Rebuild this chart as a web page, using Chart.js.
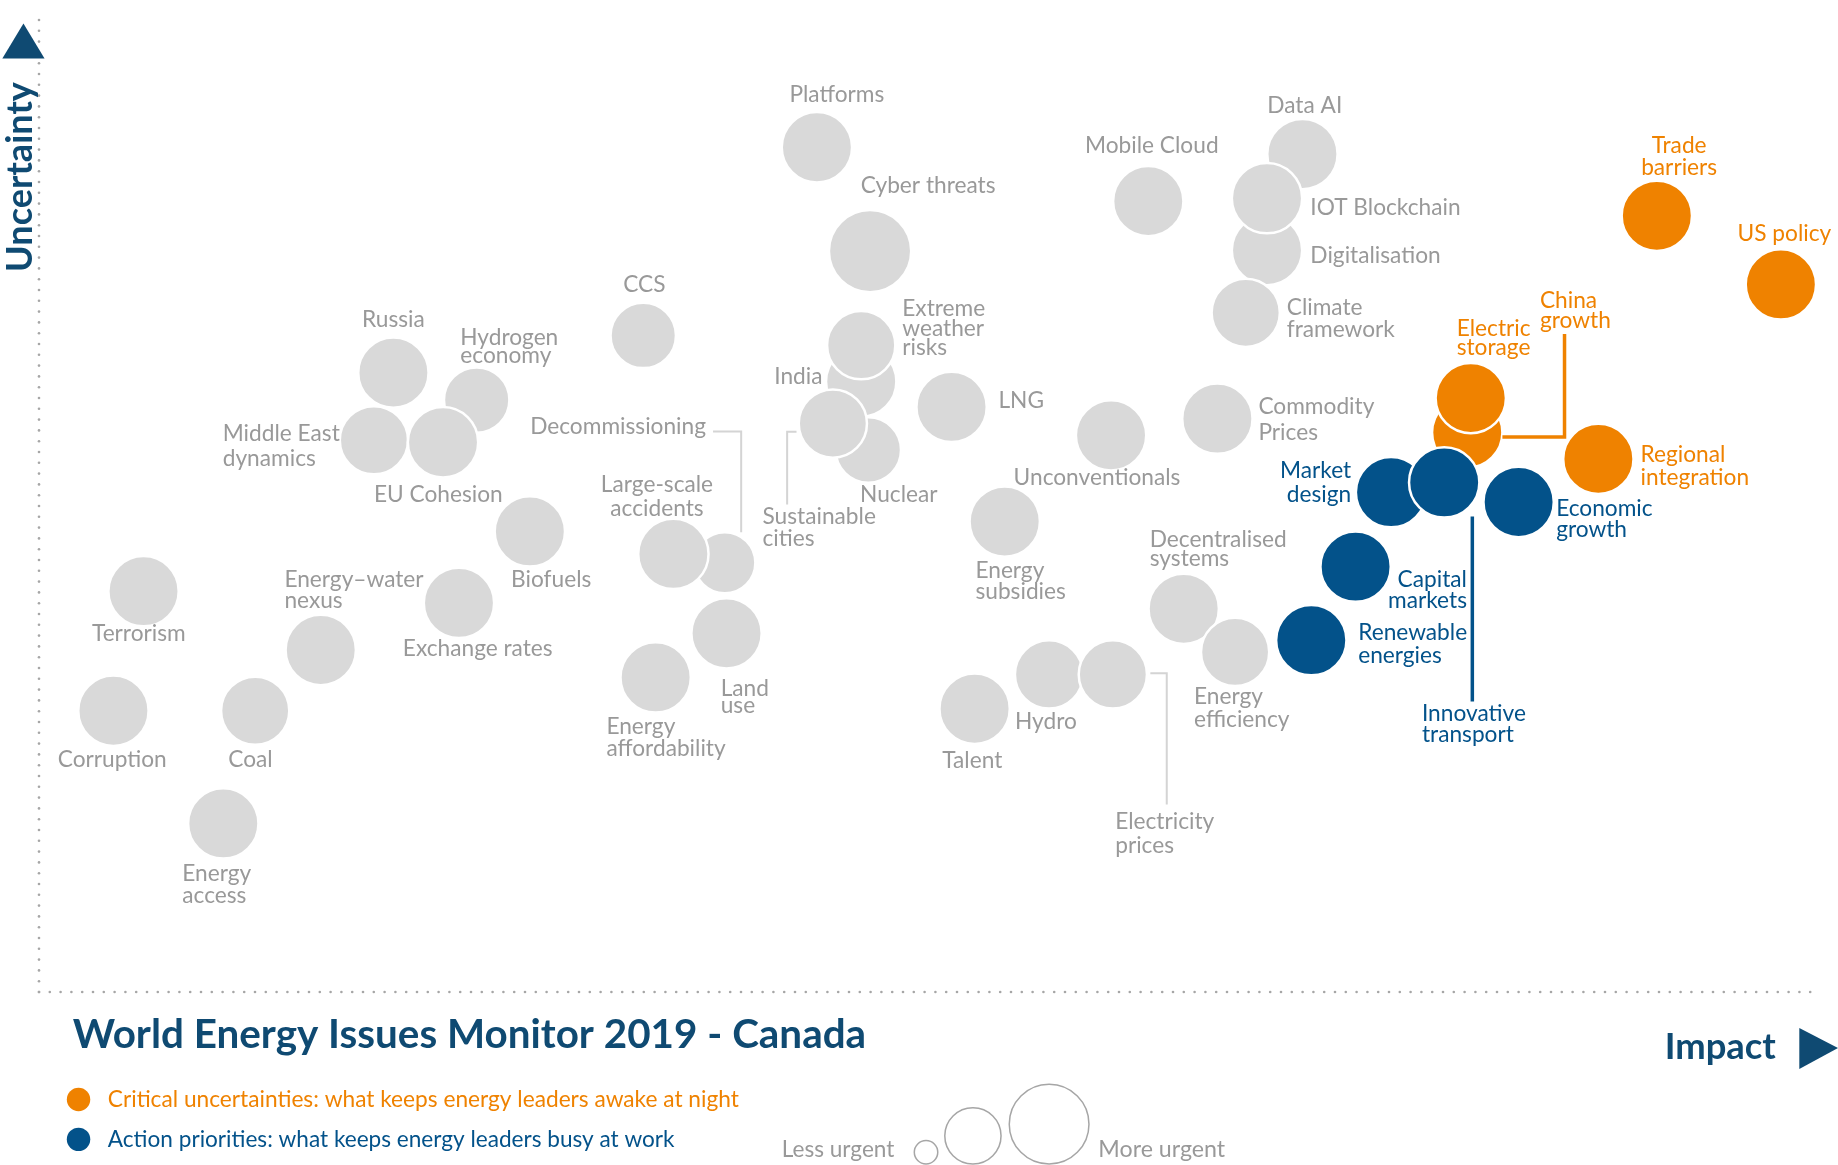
<!DOCTYPE html>
<html>
<head>
<meta charset="utf-8">
<title>World Energy Issues Monitor 2019 - Canada</title>
<script src="https://cdn.jsdelivr.net/npm/chart.js@4.4.1/dist/chart.umd.min.js"></script>
<style>
    html, body { margin: 0; padding: 0; background: #fff; }
    #wrap { position: relative; width: 1838px; height: 1165px; }
</style>
</head>
<body>
<div id="wrap"><canvas id="issuesChart"></canvas></div>
<script>
// Impact (x) and uncertainty (y) on a 0-100 scale, urgency drives bubble size
const greyIssues = ['Data AI', 'Digitalisation', 'IOT Blockchain', 'Mobile Cloud', 'Platforms', 'Cyber threats',
    'Climate\nframework', 'CCS', 'Russia', 'Hydrogen\neconomy', 'Middle East\ndynamics', 'EU Cohesion',
    'India', 'Nuclear', 'Extreme\nweather\nrisks', 'Sustainable\ncities', 'LNG', 'Unconventionals',
    'Commodity\nPrices', 'Biofuels', 'Decommissioning', 'Large-scale\naccidents', 'Land\nuse',
    'Energy\naffordability', 'Terrorism', 'Energy\u2013water\nnexus', 'Exchange rates', 'Corruption', 'Coal',
    'Energy\naccess', 'Energy\nsubsidies', 'Decentralised\nsystems', 'Energy\nefficiency', 'Hydro',
    'Electricity\nprices', 'Talent'];
const greyImpact = [71.3, 69.3, 69.3, 62.6, 43.9, 46.9, 68.1, 34.1, 20.0, 24.7, 18.9, 22.8,
    46.4, 46.8, 46.4, 44.8, 51.5, 60.5, 66.5, 27.7, 38.7, 35.8, 38.8, 34.8, 5.9, 15.9, 23.7, 4.2, 12.2,
    10.4, 54.5, 64.6, 67.5, 57.0, 60.6, 52.8];
const greyUncertainty = [85.5, 75.7, 81.0, 80.7, 86.2, 75.6, 69.3, 67.0, 63.2, 60.4, 56.3, 56.1,
    62.3, 55.3, 66.0, 58.0, 59.7, 56.8, 58.5, 47.0, 43.8, 44.7, 36.6, 32.1, 40.9, 34.9, 39.7, 28.7, 28.7,
    17.2, 48.0, 39.1, 34.7, 32.4, 32.4, 28.9];
const greyUrgency = [10, 10, 10, 10, 10, 11.7, 9.7, 9.3, 10, 9.3, 9.7, 10,
    10, 9.3, 9.7, 9.7, 10, 10, 10, 10, 8.7, 10, 10, 10, 10, 10, 10, 10, 9.7,
    10, 10, 10, 9.7, 9.7, 9.7, 10];

const criticalIssues = ['Trade\nbarriers', 'US policy', 'China\ngrowth', 'Electric\nstorage', 'Regional\nintegration'];
const criticalImpact = [91.3, 98.3, 80.6, 80.8, 88.0];
const criticalUncertainty = [79.2, 72.2, 57.1, 60.6, 54.4];
const criticalUrgency = [10, 10, 10, 10, 10];

const actionIssues = ['Renewable\nenergies', 'Capital\nmarkets', 'Economic\ngrowth', 'Market\ndesign', 'Innovative\ntransport'];
const actionImpact = [71.8, 74.3, 83.5, 76.3, 79.3];
const actionUncertainty = [35.9, 43.4, 50.0, 51.0, 52.0];
const actionUrgency = [10, 10, 10, 10, 10];

// the reference was laid out 1568 wide; label offsets below are in that unit
const S = 1838 / 1568;
const P = v => v * S;
const FONT = 'Lato';

const GREY = '#d9d9d9';
const GREY_TEXT = '#999999';
const ORANGE = '#ef8200';
const BLUE = '#03528a';
const NAVY = '#0f4a72';
const BORDER_W = 2.5;

// the 0-100 frame, in canvas pixels
const FRAME = { left: 39, right: 1811, top: 12, bottom: 992 };
const X_UNIT = (FRAME.right - FRAME.left) / 100;
const Y_UNIT = (FRAME.bottom - FRAME.top) / 100;

// label placement: [dx, dy, align, line gap, connector path]
const labelLayout = {
    'Platforms': [17, -45, 'center'],
    'Cyber threats': [-8, -56, 'left'],
    'Mobile Cloud': [3, -47, 'center'],
    'Data AI': [2, -41, 'center'],
    'IOT Blockchain': [37, 8, 'left'],
    'Digitalisation': [37, 5, 'left'],
    'Climate\nframework': [35, -4, 'left', 18],
    'CCS': [1, -43, 'center'],
    'Russia': [0, -45, 'center'],
    'Hydrogen\neconomy': [-14, -53, 'left', 15],
    'Middle East\ndynamics': [-129, -6, 'left', 22],
    'EU Cohesion': [-4, 45, 'center'],
    'Extreme\nweather\nrisks': [35, -31, 'left', 16.5],
    'India': [-33, -4, 'right'],
    'Sustainable\ncities': [-60, 79, 'left', 19, [[-31, 7], [-39, 7], [-39, 69]]],
    'Nuclear': [-7, 38, 'left'],
    'LNG': [40, -5, 'left'],
    'Unconventionals': [-12, 36, 'center'],
    'Commodity\nPrices': [35, -10, 'left', 22],
    'Decommissioning': [-16, -116, 'right', 0, [[-10, -112], [14, -112], [14, -26]]],
    'Large-scale\naccidents': [-14, -59, 'center', 20],
    'Biofuels': [-16, 41, 'left'],
    'Land\nuse': [-5, 47, 'left', 15],
    'Energy\naffordability': [-42, 42, 'left', 19],
    'Terrorism': [-4, 36, 'center'],
    'Energy\u2013water\nnexus': [-31, -60, 'left', 18],
    'Exchange rates': [16, 39, 'center'],
    'Corruption': [-1, 42, 'center'],
    'Coal': [-4, 42, 'center'],
    'Energy\naccess': [-35, 43, 'left', 19],
    'Energy\nsubsidies': [-25, 42, 'left', 18],
    'Decentralised\nsystems': [-29, -59, 'left', 16],
    'Energy\nefficiency': [-35, 38, 'left', 20],
    'Hydro': [-29, 40, 'left'],
    'Electricity\nprices': [2, 126, 'left', 20, [[32, -1], [46, -1], [46, 111]]],
    'Talent': [-2, 44, 'center'],
    'Trade\nbarriers': [19, -60, 'center', 19],
    'US policy': [3, -43, 'center'],
    'Electric\nstorage': [-12, -59, 'left', 16],
    'China\ngrowth': [62, -112, 'left', 17, [[30, 4], [83, 4], [83, -84]]],
    'Regional\nintegration': [36, -4, 'left', 20],
    'Market\ndesign': [-34, -18, 'right', 20],
    'Innovative\ntransport': [-19, 197, 'left', 18, [[24, 29], [24, 187]]],
    'Economic\ngrowth': [32, 6, 'left', 18],
    'Capital\nmarkets': [95, 11, 'right', 18],
    'Renewable\nenergies': [40, -6, 'left', 19]
};

const R_UNIT = 3 * S;
function toPoints(impact, uncertainty, urgency) {
    return impact.map((x, i) => ({ x: x, y: uncertainty[i], r: urgency[i] * R_UNIT }));
}

// Chart.js pads the chart area by the largest bubble; stretch the scales so 0-100 still sits on FRAME
const overflow = Math.max(...greyUrgency, ...criticalUrgency, ...actionUrgency) * R_UNIT + BORDER_W;
const areaLeft = Math.max(FRAME.left, overflow);
const areaRight = 1838 - Math.max(1838 - FRAME.right, overflow);
const areaTop = Math.max(FRAME.top, overflow);
const xMin = (areaLeft - FRAME.left) / X_UNIT;
const xMax = (areaRight - FRAME.left) / X_UNIT;
const yMax = (FRAME.bottom - areaTop) / Y_UNIT;

function fitFont(ctx, text, weight, width) {
    ctx.font = weight + ' 100px ' + FONT;
    const size = 100 * width / ctx.measureText(text).width;
    return weight + ' ' + size.toFixed(1) + 'px ' + FONT;
}

const overlay = {
    id: 'overlay',
    beforeDatasetsDraw(chart) {
        const ctx = chart.ctx;
        ctx.save();
        ctx.fillStyle = '#a6a6a6';
        // dotted axes
        for (let y = FRAME.bottom; y >= P(8); y -= 10.8) {
            ctx.beginPath();
            ctx.arc(FRAME.left, y, 1.3, 0, Math.PI * 2);
            ctx.fill();
        }
        for (let x = FRAME.left; x <= P(1545); x += 10.8) {
            ctx.beginPath();
            ctx.arc(x, FRAME.bottom, 1.3, 0, Math.PI * 2);
            ctx.fill();
        }
        ctx.restore();
    },
    afterDatasetsDraw(chart) {
        const ctx = chart.ctx;
        ctx.save();

        // connectors and labels
        chart.data.datasets.forEach((ds, di) => {
            const meta = chart.getDatasetMeta(di);
            ds.issues.forEach((name, i) => {
                const el = meta.data[i];
                const lay = labelLayout[name];
                if (!el || !lay) return;
                const [dx, dy, align, gap, path] = lay;
                if (path) {
                    ctx.strokeStyle = ds.lineColor;
                    ctx.lineWidth = ds.lineWidth;
                    ctx.beginPath();
                    path.forEach((p, k) => {
                        const px = el.x + P(p[0]);
                        const py = el.y + P(p[1]);
                        if (k === 0) ctx.moveTo(px, py); else ctx.lineTo(px, py);
                    });
                    ctx.stroke();
                }
                ctx.fillStyle = ds.textColor;
                ctx.font = '400 22.7px ' + FONT;
                ctx.textAlign = align;
                ctx.textBaseline = 'middle';
                name.split('\n').forEach((line, k) => {
                    ctx.fillText(line, el.x + P(dx), el.y + P(dy + k * (gap || 20)));
                });
            });
        });

        // axis titles and arrows
        ctx.fillStyle = NAVY;
        ctx.beginPath();
        ctx.moveTo(P(2), P(50));
        ctx.lineTo(P(38), P(50));
        ctx.lineTo(P(20), P(20));
        ctx.closePath();
        ctx.fill();
        ctx.beginPath();
        ctx.moveTo(P(1535), P(877));
        ctx.lineTo(P(1568), P(894));
        ctx.lineTo(P(1535), P(912));
        ctx.closePath();
        ctx.fill();

        ctx.save();
        ctx.translate(P(17), P(151));
        ctx.rotate(-Math.PI / 2);
        ctx.font = fitFont(ctx, 'Uncertainty', '700', P(162));
        ctx.textAlign = 'center';
        ctx.textBaseline = 'middle';
        ctx.fillText('Uncertainty', 0, 0);
        ctx.restore();

        ctx.textBaseline = 'middle';
        ctx.textAlign = 'right';
        ctx.font = fitFont(ctx, 'Impact', '700', P(95));
        ctx.fillText('Impact', P(1515), P(893));

        // title
        ctx.textAlign = 'left';
        ctx.font = fitFont(ctx, 'World Energy Issues Monitor 2019 - Canada', '700', P(677));
        ctx.fillText('World Energy Issues Monitor 2019 - Canada', P(62), P(883));

        // colour legend
        const legendRows = [
            [ORANGE, 'Critical uncertainties: what keeps energy leaders awake at night', 938, 538],
            [BLUE, 'Action priorities: what keeps energy leaders busy at work', 972, 483]
        ];
        legendRows.forEach(([color, text, y, w]) => {
            ctx.fillStyle = color;
            ctx.beginPath();
            ctx.arc(P(67), P(y), P(10), 0, Math.PI * 2);
            ctx.fill();
            ctx.font = fitFont(ctx, text, '400', P(w));
            ctx.fillText(text, P(92), P(y));
        });

        // size legend
        ctx.strokeStyle = '#a6a6a6';
        ctx.lineWidth = 1.5;
        [[790, 983, 10], [830, 969, 24], [895, 959, 34]].forEach(([x, y, r]) => {
            ctx.beginPath();
            ctx.arc(P(x), P(y), P(r), 0, Math.PI * 2);
            ctx.stroke();
        });
        ctx.fillStyle = GREY_TEXT;
        ctx.font = fitFont(ctx, 'Less urgent', '400', P(96));
        ctx.textAlign = 'right';
        ctx.fillText('Less urgent', P(763), P(981));
        ctx.font = fitFont(ctx, 'More urgent', '400', P(108));
        ctx.textAlign = 'left';
        ctx.fillText('More urgent', P(937), P(981));

        ctx.restore();
    }
};

const ctx = document.getElementById('issuesChart').getContext('2d');
new Chart(ctx, {
    type: 'bubble',
    data: {
        datasets: [
            {
                label: 'Action priorities',
                issues: actionIssues,
                data: toPoints(actionImpact, actionUncertainty, actionUrgency),
                backgroundColor: BLUE,
                borderColor: '#ffffff',
                borderWidth: BORDER_W,
                textColor: BLUE,
                lineColor: BLUE,
                lineWidth: 3.5,
                clip: false,
                order: 0
            },
            {
                label: 'Critical uncertainties',
                issues: criticalIssues,
                data: toPoints(criticalImpact, criticalUncertainty, criticalUrgency),
                backgroundColor: ORANGE,
                borderColor: '#ffffff',
                borderWidth: BORDER_W,
                textColor: ORANGE,
                lineColor: ORANGE,
                lineWidth: 3.5,
                clip: false,
                order: 1
            },
            {
                label: 'Other issues',
                issues: greyIssues,
                data: toPoints(greyImpact, greyUncertainty, greyUrgency),
                backgroundColor: GREY,
                borderColor: '#ffffff',
                borderWidth: BORDER_W,
                textColor: GREY_TEXT,
                lineColor: '#d4d4d4',
                lineWidth: 2,
                clip: false,
                order: 2
            }
        ]
    },
    options: {
        responsive: true,
        maintainAspectRatio: false,
        animation: false,
        events: [],
        layout: {
            padding: { left: FRAME.left, right: 1838 - FRAME.right, top: FRAME.top, bottom: 1165 - FRAME.bottom }
        },
        plugins: {
            legend: { display: false },
            tooltip: { enabled: false }
        },
        scales: {
            x: { type: 'linear', min: xMin, max: xMax, display: false },
            y: { type: 'linear', min: 0, max: yMax, display: false }
        }
    },
    plugins: [overlay]
});
</script>
</body>
</html>
